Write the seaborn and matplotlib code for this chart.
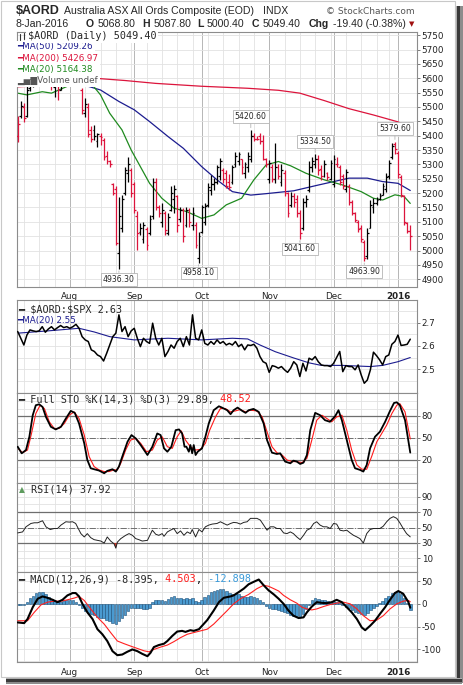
import numpy as np
import pandas as pd
import matplotlib
matplotlib.use("Agg")
import matplotlib.pyplot as plt
import seaborn as sns
from matplotlib.patches import Rectangle
from matplotlib.lines import Line2D

# -> Calendario de la bolsa (ASX) <-
start_date = "2015-07-09"
end_date = "2016-01-08"
holidays = ["2015-12-25", "2015-12-28", "2016-01-01"]
month_labels = ["Aug", "Sep", "Oct", "Nov", "Dec", "2016"]

# -> $AORD diario: open / high / low / close <-
prev_close0 = 5470
opens = [5400, 5470, 5500, 5470, 5565, 5590, 5600, 5620, 5610, 5640,
         5630, 5600, 5570, 5590, 5560, 5610, 5650, 5680, 5700, 5690,
         5660, 5560, 5480, 5500, 5420, 5420, 5380, 5400, 5385, 5330,
         5310, 5230, 5215, 4990, 5080, 5200, 5270, 5280, 5230, 5120,
         5065, 5040, 5075, 5060, 5120, 5240, 5150, 5100, 5130, 5060,
         5140, 5180, 5190, 5110, 5140, 5090, 5140, 5090, 5090, 4975,
         5065, 5100, 5160, 5210, 5230, 5240, 5260, 5280, 5270, 5240,
         5240, 5300, 5310, 5320, 5270, 5290, 5320, 5400, 5390, 5400,
         5380, 5320, 5250, 5290, 5250, 5290, 5240, 5270, 5200, 5160,
         5190, 5180, 5130, 5080, 5170, 5210, 5290, 5300, 5320, 5285,
         5260, 5270, 5250, 5230, 5300, 5290, 5260, 5215, 5225, 5170,
         5130, 5100, 5080, 5030, 4980, 5080, 5150, 5165, 5180, 5195,
         5215, 5260, 5325, 5370, 5340, 5255, 5190, 5095, 5068.8]
highs = [5467, 5519, 5513, 5577, 5600, 5615, 5630, 5640, 5650, 5660,
         5640, 5610, 5600, 5600, 5620, 5660, 5690, 5720, 5730, 5700,
         5670, 5565, 5530, 5513, 5432, 5437, 5410, 5408, 5391, 5345,
         5315, 5234, 5223, 5188, 5194, 5292, 5327, 5286, 5240, 5136,
         5095, 5101, 5083, 5124, 5252, 5252, 5160, 5164, 5136, 5130,
         5223, 5228, 5193, 5153, 5147, 5153, 5147, 5153, 5100, 5066,
         5159, 5165, 5234, 5263, 5252, 5298, 5321, 5286, 5280, 5265,
         5298, 5344, 5344, 5320, 5309, 5344, 5420.6, 5408, 5400, 5408,
         5403, 5321, 5315, 5300, 5374, 5300, 5300, 5280, 5205, 5205,
         5199, 5194, 5140, 5182, 5194, 5310, 5327, 5334.5, 5333, 5298,
         5315, 5275, 5315, 5333, 5327, 5298, 5265, 5285, 5230, 5176,
         5135, 5105, 5089, 5036, 5077, 5176, 5182, 5188, 5200, 5234,
         5269, 5315, 5375, 5379.6, 5345, 5263, 5194, 5101, 5087.8]
lows = [5379, 5461, 5446, 5466, 5555, 5570, 5590, 5600, 5600, 5620,
        5585, 5560, 5536, 5525, 5560, 5600, 5640, 5670, 5680, 5640,
        5600, 5475, 5466, 5397, 5379, 5385, 5362, 5368, 5316, 5300,
        5290, 5194, 5019, 4936.3, 5066, 5194, 5240, 5188, 5130, 5002,
        5054, 5025, 5002, 5054, 5110, 5141, 5118, 5083, 5054, 5054,
        5136, 5130, 5066, 5100, 5031, 5083, 5083, 5072, 5010, 4958.1,
        5060, 5089, 5153, 5193, 5211, 5230, 5246, 5234, 5217, 5210,
        5230, 5292, 5298, 5265, 5252, 5275, 5309, 5380, 5385, 5370,
        5315, 5290, 5234, 5240, 5234, 5250, 5223, 5190, 5118, 5153,
        5150, 5118, 5041.6, 5072, 5153, 5205, 5275, 5286, 5262, 5246,
        5257, 5245, 5245, 5222, 5292, 5228, 5215, 5205, 5160, 5124,
        5100, 5066, 5031, 4963.9, 4970, 5077, 5130, 5158, 5175, 5194,
        5205, 5250, 5320, 5335, 5252, 5188, 5090, 5060, 5000.4]
closes = [5440, 5505, 5460, 5560, 5590, 5600, 5620, 5610, 5640, 5630,
          5600, 5575, 5590, 5560, 5610, 5650, 5680, 5700, 5690, 5660,
          5610, 5490, 5510, 5405, 5390, 5400, 5405, 5395, 5325, 5310,
          5300, 5200, 5025, 5120, 5180, 5280, 5300, 5200, 5140, 5060,
          5080, 5090, 5020, 5110, 5240, 5150, 5130, 5140, 5070, 5115,
          5200, 5215, 5090, 5140, 5050, 5140, 5100, 5130, 5020, 5050,
          5150, 5155, 5220, 5230, 5240, 5290, 5310, 5250, 5225, 5220,
          5290, 5330, 5335, 5290, 5300, 5330, 5400, 5390, 5388, 5380,
          5320, 5300, 5305, 5250, 5290, 5260, 5280, 5200, 5130, 5190,
          5170, 5130, 5060, 5170, 5180, 5290, 5310, 5320, 5280, 5260,
          5300, 5255, 5305, 5320, 5300, 5240, 5225, 5275, 5170, 5130,
          5105, 5075, 5040, 4975, 5060, 5160, 5165, 5175, 5190, 5225,
          5255, 5305, 5365, 5355, 5265, 5195, 5100, 5068.8, 5049.4]
peak_days = [76, 97, 123]
trough_days = [33, 59, 92, 113]

# Medias moviles (dia, valor)
ma50_day = [0, 10, 18, 22, 27, 33, 38, 43, 49, 54, 60, 65, 70, 76, 81, 90, 98, 103, 108, 114, 119, 124, 128]
ma50_val = [5596, 5594, 5590, 5575, 5559, 5519, 5490, 5449, 5397, 5356, 5292, 5246, 5205, 5193, 5198,
            5208, 5228, 5240, 5252, 5252, 5240, 5234, 5209]
ma200_day = [0, 8, 16, 25, 35, 45, 60, 75, 85, 92, 100, 108, 116, 124, 128]
ma200_val = [5570, 5574, 5590, 5600, 5592, 5582, 5572, 5565, 5558, 5548, 5522, 5494, 5472, 5448, 5427]
ma20_day = [0, 3, 8, 11, 16, 20, 23, 27, 30, 34, 37, 40, 43, 47, 51, 55, 60, 64, 68, 73, 77, 81, 85,
            89, 94, 100, 106, 112, 116, 119, 123, 126, 128]
ma20_val = [5548, 5542, 5553, 5548, 5571, 5600, 5594, 5542, 5478, 5420, 5350, 5292, 5234, 5182, 5147,
            5136, 5112, 5124, 5159, 5182, 5246, 5298, 5310, 5295, 5269, 5246, 5228, 5205, 5182, 5176,
            5194, 5188, 5164]

# $AORD:$SPX diario y su MA(20)
ratio = [2.662, 2.633, 2.604, 2.647, 2.669, 2.665, 2.662, 2.665, 2.683, 2.659,
         2.673, 2.683, 2.669, 2.679, 2.688, 2.679, 2.683, 2.676, 2.683, 2.693,
         2.676, 2.640, 2.626, 2.619, 2.583, 2.576, 2.561, 2.554, 2.535, 2.568,
         2.604, 2.640, 2.655, 2.734, 2.662, 2.683, 2.640, 2.665, 2.676, 2.633,
         2.597, 2.633, 2.619, 2.611, 2.698, 2.633, 2.604, 2.633, 2.554, 2.576,
         2.604, 2.590, 2.619, 2.633, 2.597, 2.640, 2.604, 2.734, 2.633, 2.626,
         2.669, 2.611, 2.604, 2.619, 2.607, 2.626, 2.611, 2.619, 2.604, 2.611,
         2.604, 2.619, 2.597, 2.607, 2.583, 2.604, 2.602, 2.607, 2.590, 2.554,
         2.532, 2.525, 2.486, 2.515, 2.511, 2.504, 2.511, 2.497, 2.486, 2.504,
         2.532, 2.518, 2.468, 2.525, 2.492, 2.547, 2.540, 2.554, 2.532, 2.518,
         2.515, 2.515, 2.511, 2.525, 2.550, 2.576, 2.489, 2.515, 2.511, 2.511,
         2.497, 2.518, 2.475, 2.439, 2.453, 2.497, 2.573, 2.558, 2.540, 2.518,
         2.554, 2.561, 2.607, 2.619, 2.647, 2.602, 2.604, 2.607, 2.629]
rma_day = [0, 10, 20, 25, 30, 38, 49, 60, 70, 75, 79, 84, 90, 95, 99, 106, 115, 119, 124, 128]
rma_val = [2.655, 2.665, 2.676, 2.660, 2.640, 2.626, 2.633, 2.626, 2.633, 2.630, 2.604, 2.575, 2.548,
           2.527, 2.516, 2.516, 2.511, 2.516, 2.532, 2.550]

# Full STO %K y %D (dia, valor)
sto_k = [(0, 37.9), (1.3, 28.9), (2.7, 33.4), (3.8, 51.5), (4.9, 80.9), (5.9, 94.5), (7.0, 95.8), (8.1, 92.2),
         (9.2, 78.6), (10.8, 65.1), (12.4, 61.5), (14.1, 65.1), (15.7, 76.4), (17.3, 86.8), (18.6, 84.1),
         (20.0, 69.6), (21.7, 42.5), (22.7, 19.8), (23.8, 8.5), (24.9, 7.2), (26.5, 5.4), (28.2, 1.7),
         (29.2, 4.9), (30.9, 7.2), (32.0, 4.0), (33.0, 10.8), (34.1, 24.4), (35.8, 44.7), (37.1, 53.8),
         (38.5, 49.2), (40.1, 40.2), (42.3, 26.6), (43.9, 37.9), (45.5, 56.0), (46.6, 53.8), (47.7, 35.7),
         (48.8, 31.1), (50.1, 37.9), (51.5, 60.5), (52.6, 61.5), (53.6, 56.0), (54.4, 37.9), (55.0, 37.9),
         (55.8, 31.1), (56.3, 40.2), (56.9, 28.9), (57.4, 40.2), (58.0, 26.6), (58.7, 31.1), (60.1, 35.7),
         (61.2, 51.5), (62.3, 69.6), (63.9, 87.7), (65.6, 93.1), (66.6, 91.3), (68.3, 87.7), (69.4, 82.3),
         (70.4, 87.7), (71.7, 91.3), (73.2, 86.8), (74.3, 84.1), (75.3, 87.7), (76.9, 89.5), (78.6, 85.4),
         (80.2, 69.6), (81.3, 47.0), (82.9, 29.8), (84.5, 28.0), (85.6, 28.9), (87.2, 17.6), (88.9, 15.3),
         (89.9, 18.9), (91.0, 17.6), (92.1, 14.4), (93.2, 16.2), (94.3, 26.6), (95.4, 60.5), (97.0, 84.1),
         (98.6, 80.9), (100.2, 74.1), (101.8, 71.9), (103.5, 79.5), (104.6, 87.7), (105.7, 74.1),
         (107.3, 47.0), (108.9, 19.8), (110.0, 8.5), (111.6, 6.3), (112.7, 4.0), (113.8, 13.0),
         (114.9, 35.7), (116.5, 51.5), (118.1, 58.3), (119.8, 71.9), (121.4, 86.8), (122.7, 97.6),
         (123.6, 98.5), (124.6, 94.5), (126.3, 74.1), (128.0, 29.9)]
sto_d = [(0, 35.7), (1.6, 29.8), (3.2, 33.4), (4.5, 56.0), (5.9, 83.2), (7.3, 94.5), (8.7, 90.0), (10.3, 71.9),
         (11.9, 62.8), (13.5, 62.8), (15.2, 69.6), (16.8, 80.9), (18.4, 85.4), (20.0, 76.4), (21.7, 53.8),
         (23.3, 24.4), (24.9, 10.8), (26.5, 6.3), (28.2, 4.0), (29.8, 4.0), (31.4, 6.3), (32.5, 6.3),
         (33.6, 15.3), (35.2, 33.4), (36.8, 47.0), (38.5, 49.2), (40.1, 42.5), (42.0, 31.1), (43.9, 33.4),
         (45.5, 47.0), (47.1, 51.5), (48.8, 37.9), (50.4, 35.7), (52.0, 51.5), (53.3, 59.6), (54.7, 47.0),
         (56.3, 37.9), (58.0, 33.4), (59.6, 34.3), (61.2, 42.5), (62.6, 60.5), (64.5, 78.6), (66.1, 90.0),
         (67.7, 90.0), (69.4, 85.4), (71.0, 86.8), (72.6, 88.6), (74.3, 85.4), (75.9, 87.7), (78.0, 86.8),
         (79.7, 78.6), (81.3, 58.3), (82.9, 37.9), (84.5, 29.8), (86.2, 26.6), (87.8, 19.8), (89.5, 17.6),
         (91.0, 17.6), (92.7, 16.2), (94.3, 22.1), (95.9, 47.0), (97.5, 74.1), (99.2, 80.9), (100.8, 76.4),
         (102.4, 71.9), (104.0, 78.6), (105.7, 80.9), (107.3, 60.5), (108.9, 33.4), (110.6, 13.0),
         (112.2, 7.2), (113.8, 7.2), (115.4, 24.4), (117.1, 44.7), (118.7, 56.0), (120.3, 67.3),
         (122.0, 83.2), (123.6, 94.5), (124.6, 96.7), (126.3, 85.4), (128.0, 48.5)]

# RSI(14) (dia, valor)
rsi = [(0, 43.0), (1.6, 44.3), (2.7, 50.9), (4.3, 55.2), (5.4, 56.1), (6.5, 56.1), (8.1, 58.7), (9.2, 50.9),
       (10.6, 47.4), (11.9, 48.7), (13.0, 48.7), (14.1, 53.1), (15.7, 57.4), (16.8, 57.0), (17.9, 57.4),
       (18.9, 55.2), (20.6, 42.1), (21.7, 37.8), (22.7, 42.1), (23.8, 36.9), (24.9, 34.3), (26.0, 33.4),
       (27.1, 32.5), (28.2, 29.9), (29.2, 37.8), (30.3, 32.5), (31.4, 29.0), (32.0, 23.3), (32.5, 31.1),
       (33.6, 35.6), (35.2, 39.9), (36.3, 42.1), (37.4, 39.9), (38.5, 35.6), (39.5, 34.3), (40.6, 32.5),
       (42.3, 33.4), (43.9, 46.5), (45.0, 41.3), (46.0, 39.9), (47.1, 42.1), (47.7, 38.6), (48.8, 44.3),
       (49.8, 46.5), (50.9, 48.7), (52.0, 42.1), (53.1, 45.6), (54.2, 39.9), (55.3, 44.3), (56.3, 42.1),
       (56.9, 47.4), (58.0, 37.8), (59.1, 47.4), (60.1, 44.3), (61.2, 50.9), (62.3, 53.1), (63.4, 54.4),
       (65.0, 55.2), (66.1, 57.4), (67.2, 55.2), (68.3, 53.1), (69.4, 55.2), (70.4, 56.6), (71.5, 56.1),
       (72.6, 54.4), (73.7, 56.6), (74.8, 57.4), (75.9, 61.8), (76.9, 61.8), (78.0, 61.8), (79.1, 59.6),
       (80.2, 53.1), (81.3, 46.5), (82.4, 50.9), (83.5, 50.9), (84.5, 48.7), (85.6, 48.7), (86.7, 43.0),
       (87.8, 42.1), (88.9, 44.3), (89.9, 42.1), (91.0, 37.8), (92.1, 34.3), (93.2, 39.9), (94.3, 46.5),
       (95.4, 48.7), (96.5, 55.2), (97.5, 57.4), (98.6, 53.1), (99.7, 50.9), (100.8, 50.9), (101.9, 48.7),
       (103.0, 55.2), (104.0, 54.4), (105.1, 46.5), (106.2, 45.6), (107.3, 46.5), (108.4, 43.0),
       (109.5, 39.9), (110.6, 37.8), (111.6, 35.6), (112.7, 29.9), (113.8, 42.1), (114.9, 47.4),
       (116.0, 48.7), (117.1, 48.7), (118.1, 48.7), (119.2, 51.7), (120.3, 57.4), (121.4, 61.8),
       (122.5, 64.0), (123.6, 61.8), (124.6, 56.1), (125.7, 48.7), (126.8, 42.1), (128.0, 37.9)]

# MACD(12,26,9): linea, señal (dia, valor) e histograma diario
macd = [(0, -40.7), (2.1, -42.2), (3.2, -33.3), (4.9, -7.4), (6.5, 11.1), (8.1, 16.3), (9.7, 13.3),
        (11.4, 8.9), (13.0, 3.7), (14.6, 8.9), (16.2, 18.5), (17.9, 23.7), (18.9, 23.7), (20.0, 16.3),
        (21.1, 0.0), (22.7, -18.5), (24.4, -33.3), (26.0, -55.5), (27.6, -66.6), (29.2, -81.4),
        (30.9, -103.6), (32.5, -112.5), (34.1, -111.0), (35.7, -105.1), (37.4, -99.9), (39.0, -103.6),
        (40.6, -109.5), (42.3, -114.7), (43.3, -107.3), (44.4, -94.7), (46.0, -90.3), (47.7, -87.3),
        (48.8, -81.4), (50.4, -70.3), (52.0, -60.7), (53.6, -59.2), (54.7, -61.4), (56.3, -57.7),
        (57.4, -59.2), (59.1, -55.5), (60.1, -48.1), (61.8, -35.5), (63.9, -14.8), (65.6, 3.7),
        (67.2, 13.3), (69.4, 16.3), (70.4, 18.5), (72.1, 25.9), (73.7, 33.3), (75.3, 42.9), (76.9, 48.1),
        (78.6, 53.3), (80.2, 40.7), (81.8, 29.6), (83.5, 20.7), (85.1, 11.1), (86.7, 0.0), (88.3, -14.8),
        (89.9, -25.9), (91.6, -31.1), (93.2, -29.6), (94.3, -18.5), (95.9, -5.9), (97.5, 3.7), (99.2, 2.2),
        (100.8, 1.5), (102.4, 3.7), (104.0, 8.9), (105.7, 3.7), (107.3, -7.4), (108.9, -18.5),
        (110.6, -33.3), (112.2, -51.8), (113.3, -57.7), (114.9, -48.1), (116.5, -37.0), (118.1, -22.2),
        (119.8, -7.4), (121.4, 8.9), (123.0, 23.7), (124.1, 28.1), (125.7, 22.2), (127.4, 3.7),
        (128.0, -8.4)]
signal = [(0, -37.0), (3.2, -37.0), (5.4, -18.5), (7.6, -2.2), (9.7, 3.7), (11.9, 5.9), (14.1, 5.9),
          (16.2, 8.9), (18.4, 12.6), (20.0, 16.3), (21.7, 7.4), (23.8, -11.1), (26.0, -29.6), (28.2, -44.4),
          (30.3, -62.9), (32.5, -81.4), (34.7, -87.3), (36.8, -92.5), (39.0, -97.7), (41.2, -102.9),
          (42.8, -105.1), (44.4, -99.9), (46.6, -94.7), (48.8, -90.3), (50.9, -82.9), (53.1, -74.0),
          (55.3, -66.6), (57.4, -62.9), (59.6, -59.2), (61.8, -55.5), (63.9, -44.4), (66.1, -29.6),
          (68.3, -14.8), (70.4, 0.0), (72.6, 11.1), (75.3, 20.7), (78.0, 33.3), (80.2, 40.7), (81.8, 38.5),
          (83.5, 33.3), (85.1, 28.1), (86.7, 18.5), (88.9, 8.9), (91.0, 1.5), (92.7, -7.4), (94.3, -11.1),
          (95.9, -13.3), (97.5, -11.1), (99.7, -5.9), (101.9, -1.5), (104.0, 1.5), (106.2, 3.7),
          (108.4, 0.0), (110.6, -11.1), (112.7, -25.9), (114.9, -37.0), (117.1, -35.5), (119.2, -25.9),
          (121.4, -11.1), (123.6, 0.0), (125.7, 5.9), (127.4, 7.4), (128.0, 4.5)]
hist = [-3, -3, -2, 5, 12, 18, 24, 26, 27, 22,
        15, 10, 7, 5, 4, 6, 8, 9, 8, 5,
        -2, -10, -16, -20, -22, -24, -28, -30, -32, -35,
        -38, -42, -45, -38, -30, -24, -16, -10, -8, -9,
        -10, -11, -12, -8, 5, 8, 9, 8, 7, 10,
        15, 18, 13, 13, 11, 12, 11, 12, 6, 3,
        8, 14, 20, 25, 28, 30, 32, 32, 28, 24,
        22, 22, 21, 18, 16, 16, 18, 15, 12, 8,
        3, -5, -9, -11, -12, -14, -16, -18, -21, -24,
        -26, -27, -28, -22, -12, -3, 8, 12, 11, 9,
        8, 6, 5, 4, 5, 2, -2, -6, -10, -14,
        -17, -20, -23, -25, -20, -14, -9, -4, 2, 7,
        12, 18, 23, 27, 29, 22, 12, 2, -12.898]

# -> Colores <-
RED = "#dc143c"
NAVY = "#1c1c8f"
GREEN = "#1f8a1f"
GRID = "#e2e2e2"
MGRID = "#b6b6b6"
REFL = "#6e6e6e"

sns.set_theme(style="white")
plt.rcParams["font.family"] = ["DejaVu Sans"]

W_PX, H_PX = 464, 685
def fx(x):
    return x / W_PX
def fy(y):
    return 1 - y / H_PX

fig = plt.figure(figsize=(4.64, 6.85), dpi=100)
fig.patch.set_facecolor("white")

LEFT, RIGHT = 16.7, 416.7
def pane(top, bottom):
    return fig.add_axes([fx(LEFT), fy(bottom), (RIGHT - LEFT) / W_PX, (bottom - top) / H_PX])

ax_p = pane(31.7, 286.7)
ax_r = pane(300, 393)
ax_s = pane(393, 483)
ax_i = pane(483, 572)
ax_m = pane(572, 662)

dates = pd.bdate_range(start_date, end_date)
dates = dates[~dates.isin(pd.to_datetime(holidays))]
days = np.arange(len(dates))
month_idx = [i for i in range(1, len(dates)) if dates[i].month != dates[i - 1].month]
week_idx = [i for i in range(1, len(dates)) if dates[i].weekday() < dates[i - 1].weekday()]

def style(ax, ylim, yticks, hgrid, fmt="{:g}"):
    ax.set_facecolor("white")
    ax.set_xlim(-0.33, 130.1)
    ax.set_ylim(*ylim)
    for d in week_idx:
        ax.axvline(d, color=GRID, lw=0.6, zorder=0)
    for d in month_idx:
        ax.axvline(d, color=MGRID, lw=0.7, zorder=0)
    for v in hgrid:
        ax.axhline(v, color=GRID, lw=0.6, zorder=0)
    ax.yaxis.tick_right()
    ax.set_yticks(yticks)
    ax.set_yticklabels([fmt.format(t) for t in yticks])
    ax.tick_params(axis="y", right=True, length=2, width=0.6, color="#666666", pad=1.5,
                   labelsize=6.3, labelcolor="#222222")
    ax.set_xticks([])
    ax.set_xlabel("")
    ax.set_ylabel("")
    for s in ax.spines.values():
        s.set_color("#8c8c8c")
        s.set_linewidth(0.8)

# -> Panel de precio <-
prices = np.arange(4900, 5751, 50)
style(ax_p, (4874, 5762), prices, prices)
cl = np.array(closes)
prev = np.r_[prev_close0, cl[:-1]]
bar_col = np.where(cl < prev, RED, "black")
ax_p.vlines(days, lows, highs, colors=bar_col, lw=0.9, zorder=3)
ax_p.hlines(opens, days - 0.6, days, colors=bar_col, lw=0.9, zorder=3)
ax_p.hlines(closes, days, days + 0.6, colors=bar_col, lw=0.9, zorder=3)
sns.lineplot(x=ma200_day, y=ma200_val, ax=ax_p, color=RED, lw=0.9, estimator=None, sort=False, zorder=2)
sns.lineplot(x=ma50_day, y=ma50_val, ax=ax_p, color=NAVY, lw=0.9, estimator=None, sort=False, zorder=2)
sns.lineplot(x=ma20_day, y=ma20_val, ax=ax_p, color=GREEN, lw=0.9, estimator=None, sort=False, zorder=2)

box = dict(boxstyle="square,pad=0.25", fc="white", ec="#b4b4b4", lw=0.6)
arr = dict(arrowstyle="-", color="#b4b4b4", lw=0.6, shrinkA=0, shrinkB=1.5)
for d in peak_days:
    ax_p.annotate(f"{highs[d]:.2f}", xy=(d, highs[d]), xytext=(0, 9.5), textcoords="offset points",
                  ha="center", va="center", fontsize=5.6, bbox=box, arrowprops=arr, zorder=6)
for d in trough_days:
    ax_p.annotate(f"{lows[d]:.2f}", xy=(d, lows[d]), xytext=(0, -7.5), textcoords="offset points",
                  ha="center", va="center", fontsize=5.6, bbox=box, arrowprops=arr, zorder=6)

# -> Panel $AORD:$SPX <-
style(ax_r, (2.397, 2.798), [2.5, 2.6, 2.7], np.arange(2.45, 2.80, 0.05), "{:.1f}")
sns.lineplot(x=days, y=ratio, ax=ax_r, color="black", lw=1.1, estimator=None, sort=False, zorder=3)
sns.lineplot(x=rma_day, y=rma_val, ax=ax_r, color=NAVY, lw=0.8, estimator=None, sort=False, zorder=2)

# -> Panel Full STO <-
style(ax_s, (-11.6, 111.2), [20, 50, 80], np.arange(0, 101, 10))
ax_s.axhline(80, color=REFL, lw=0.9, zorder=1)
ax_s.axhline(20, color=REFL, lw=0.9, zorder=1)
ax_s.axhline(50, color=REFL, lw=0.7, ls="-.", zorder=1)
kx, kv = zip(*sto_k)
dx, dv = zip(*sto_d)
sns.lineplot(x=list(dx), y=list(dv), ax=ax_s, color="#ff1a1a", lw=0.8, estimator=None, sort=False, zorder=2)
sns.lineplot(x=list(kx), y=list(kv), ax=ax_s, color="black", lw=1.3, estimator=None, sort=False, zorder=3)

# -> Panel RSI <-
style(ax_i, (-7.5, 107.5), [10, 30, 50, 70, 90], np.arange(0, 101, 10))
ax_i.axhline(70, color=REFL, lw=0.9, zorder=1)
ax_i.axhline(30, color=REFL, lw=0.9, zorder=1)
ax_i.axhline(50, color=REFL, lw=0.7, ls="-.", zorder=1)
rx, rv = np.array(rsi).T
ax_i.fill_between(rx, rv, 30, where=rv < 30, interpolate=True, color="#c0392b", lw=0, zorder=2)
sns.lineplot(x=rx, y=rv, ax=ax_i, color="#222222", lw=0.7, estimator=None, sort=False, zorder=3)

# -> Panel MACD <-
style(ax_m, (-127.4, 69.8), [-100, -50, 0, 50], np.arange(-125, 70, 25))
ax_m.bar(days, hist, width=0.85, color="#4a9ad0", edgecolor="#1c4f78", lw=0.4, zorder=2)
mx, mv = zip(*macd)
sx, sv = zip(*signal)
sns.lineplot(x=list(sx), y=list(sv), ax=ax_m, color="#ff2020", lw=0.8, estimator=None, sort=False, zorder=3)
sns.lineplot(x=list(mx), y=list(mv), ax=ax_m, color="black", lw=1.5, estimator=None, sort=False, zorder=4)

for ax in (ax_p, ax_m):
    ax.set_xticks(month_idx)
    ax.set_xticklabels(month_labels)
    ax.tick_params(axis="x", bottom=True, length=0, pad=4, labelsize=6.3, labelcolor="#222222")
    ax.get_xticklabels()[-1].set_fontweight("bold")

# -> Textos: titulo y leyendas <-
def label(x, y, s, **kw):
    kw.setdefault("va", "center")
    kw.setdefault("ha", "left")
    return fig.text(fx(x), fy(y), s, parse_math=False, **kw)

SANS = ["Liberation Sans", "DejaVu Sans"]
MONO = ["DejaVu Sans Mono"]
label(16, 11, "$AORD", family=SANS, fontsize=9, fontweight="bold")
label(64, 11, "Australia ASX All Ords Composite (EOD)", family=SANS, fontsize=7.6)
label(263, 11, "INDX", family=SANS, fontsize=7.6)
label(326, 11, "© StockCharts.com", fontsize=6.5, color="#555555")

row2 = [(16, "8-Jan-2016", "normal"), (86, "O", "bold"), (97.5, "5068.80", "normal"),
        (142.5, "H", "bold"), (154, "5087.80", "normal"), (197, "L", "bold"), (207, "5000.40", "normal"),
        (252, "C", "bold"), (263, "5049.40", "normal"), (309, "Chg", "bold"),
        (333, "-19.40 (-0.38%)", "normal")]
for x, s, w in row2:
    label(x, 24, s, family=SANS, fontsize=7.6, fontweight=w)
label(409, 24, "▼", fontsize=5, color="#a01010")

wb = dict(fc="white", ec="none", pad=1.3)
# icono OHLC
for x0, y0, y1 in [(20.5, 33.5, 39.5), (24.5, 32.5, 38.5)]:
    fig.add_artist(Line2D([fx(x0), fx(x0)], [fy(y1), fy(y0)], color="#333333", lw=0.8,
                          transform=fig.transFigure, zorder=6))
label(28, 36, "$AORD (Daily) 5049.40", family=MONO, fontsize=7.3, bbox=wb, zorder=5)
label(17.5, 47, "━MA(50) 5209.26", fontsize=6.3, color=NAVY, bbox=wb)
label(17.5, 58.5, "━MA(200) 5426.97", fontsize=6.3, color=RED, bbox=wb)
label(17.5, 69.8, "━MA(20) 5164.38", fontsize=6.3, color=GREEN, bbox=wb)
label(17.5, 80.5, "▂▅▇Volume undef", fontsize=6.3, color="#555555", bbox=wb)

label(18.5, 310, "━ $AORD:$SPX 2.63", family=MONO, fontsize=7.3)
label(17.5, 320.7, "━MA(20) 2.55", fontsize=6.3, color=NAVY)

t = label(18.5, 399.5, "━ Full STO %K(14,3) %D(3) 29.89,", family=MONO, fontsize=7.3)
ax_s.annotate(" 48.52", xy=(1, 0), xycoords=t, va="bottom", ha="left", family=MONO,
              fontsize=7.3, color="#ff1a1a", annotation_clip=False)

label(18.5, 489.5, "▲", fontsize=5.5, color="#5d9b5d")
label(31, 489.5, "RSI(14) 37.92", family=MONO, fontsize=7.3)

t1 = label(18.5, 579.5, "━ MACD(12,26,9) -8.395,", family=MONO, fontsize=7.3)
t2 = ax_m.annotate(" 4.503", xy=(1, 0), xycoords=t1, va="bottom", ha="left", family=MONO,
                   fontsize=7.3, color="#ff1a1a", annotation_clip=False)
t3 = ax_m.annotate(",", xy=(1, 0), xycoords=t2, va="bottom", ha="left", family=MONO,
                   fontsize=7.3, color="black", annotation_clip=False)
ax_m.annotate(" -12.898", xy=(1, 0), xycoords=t3, va="bottom", ha="left", family=MONO,
              fontsize=7.3, color="#3a9ad9", annotation_clip=False)

# -> Marco y sombra de la imagen <-
fig.add_artist(Rectangle((fx(0.5), fy(677)), fx(455) - fx(0.5), fy(0.5) - fy(677), fill=False,
                         ec="#c8c8c8", lw=0.8, transform=fig.transFigure))
for (x0, x1, c) in [(456, 457.5, "#b0b0b0"), (457.5, 460.5, "#3a3a3a"), (460.5, 462.5, "#8c8c8c")]:
    fig.add_artist(Rectangle((fx(x0), fy(683)), fx(x1) - fx(x0), fy(6) - fy(683), fc=c, ec="none",
                             transform=fig.transFigure))
for (y0, y1, c) in [(677.5, 679, "#b0b0b0"), (679, 682, "#3a3a3a"), (682, 684, "#8c8c8c")]:
    fig.add_artist(Rectangle((fx(6), fy(y1)), fx(462.5) - fx(6), fy(y0) - fy(y1), fc=c, ec="none",
                             transform=fig.transFigure))

fig.savefig("out.png", dpi=100, facecolor="white")
